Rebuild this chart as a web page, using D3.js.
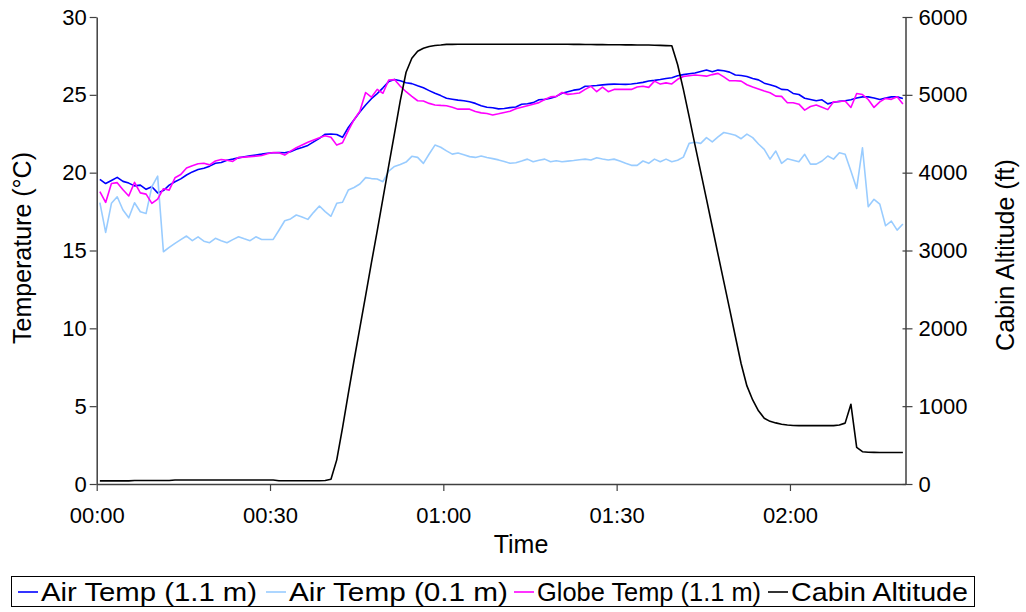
<!DOCTYPE html>
<html>
<head>
<meta charset="utf-8">
<script src="https://cdn.jsdelivr.net/npm/d3@7"></script>
<style>
  html, body { margin: 0; padding: 0; background: #fff; }
  svg { display: block; font-family: "Liberation Sans", Arial, sans-serif; }
</style>
</head>
<body>
<svg id="chart" width="1026" height="612"></svg>
<script>
// ---- Data (one sample per minute, first sample 0.55 min after 00:00) ----
const sampleStartMin = 0.55;
const sampleStepMin = 1;

const airTemp11 = [
  19.57,19.3,19.5,19.7,19.44,19.33,19.15,19.2,18.93,19.1,
  18.7,18.85,19.2,19.42,19.6,19.85,20.05,20.2,20.28,20.42,
  20.6,20.65,20.8,20.87,20.95,21.02,21.08,21.14,21.19,21.25,
  21.28,21.3,21.28,21.35,21.5,21.62,21.75,21.98,22.2,22.47,
  22.48,22.45,22.27,22.9,23.4,23.9,24.35,24.75,25.08,25.45,
  25.85,25.99,25.9,25.78,25.72,25.58,25.45,25.27,25.1,24.95,
  24.78,24.72,24.66,24.62,24.55,24.45,24.3,24.2,24.17,24.1,
  24.12,24.18,24.22,24.4,24.43,24.5,24.68,24.71,24.78,24.9,
  25.1,25.2,25.3,25.35,25.55,25.57,25.6,25.64,25.67,25.69,
  25.68,25.67,25.7,25.74,25.8,25.89,25.93,25.98,26.05,26.1,
  26.22,26.3,26.35,26.4,26.5,26.59,26.48,26.59,26.55,26.46,
  26.27,26.24,26.18,26.05,25.96,25.75,25.65,25.53,25.35,25.33,
  25.09,25.02,24.78,24.7,24.62,24.68,24.42,24.52,24.58,24.62,
  24.68,24.8,24.87,24.87,24.8,24.7,24.8,24.87,24.87,24.77
];

const airTemp01 = [
  18.07,16.16,18.03,18.45,17.6,17.1,18.07,17.49,17.38,19.1,
  19.78,14.92,15.2,15.46,15.7,15.93,15.63,15.88,15.6,15.5,
  15.78,15.63,15.5,15.7,15.88,15.75,15.63,15.88,15.71,15.71,
  15.71,16.3,16.91,17.03,17.28,17.15,17.0,17.45,17.86,17.5,
  17.2,18.03,18.1,18.88,19.05,19.27,19.68,19.62,19.59,19.42,
  20.1,20.4,20.53,20.68,21.05,20.98,20.6,21.2,21.77,21.63,
  21.4,21.19,21.26,21.15,21.03,20.98,21.07,20.98,20.9,20.82,
  20.72,20.6,20.64,20.75,20.87,20.7,20.8,20.87,20.7,20.77,
  20.7,20.74,20.78,20.83,20.87,20.81,20.96,20.88,20.81,20.87,
  20.75,20.6,20.47,20.47,20.75,20.6,20.87,20.7,20.87,20.7,
  20.8,21.0,21.88,21.95,21.88,22.25,21.98,22.3,22.58,22.5,
  22.4,22.18,22.48,22.25,21.84,21.5,20.87,21.39,20.6,20.89,
  20.8,20.7,21.18,20.55,20.55,20.75,21.07,20.87,21.28,21.18,
  20.1,18.99,21.6,17.81,18.29,17.98,16.59,16.89,16.31,16.7
];

const globeTemp11 = [
  18.78,18.09,19.3,19.36,18.9,18.5,19.38,18.7,18.62,18.03,
  18.3,18.97,18.88,19.67,19.88,20.3,20.45,20.57,20.6,20.5,
  20.75,20.85,20.8,20.72,20.98,21.0,21.03,21.06,21.1,21.22,
  21.3,21.28,21.13,21.38,21.6,21.78,21.95,22.1,22.25,22.37,
  22.28,21.77,21.92,22.7,23.4,23.95,25.15,24.85,25.35,25.1,
  25.95,25.98,25.55,25.2,24.9,24.62,24.6,24.45,24.35,24.32,
  24.3,24.2,24.08,24.08,24.08,23.93,23.84,23.8,23.71,23.78,
  23.87,23.95,24.1,24.2,24.3,24.4,24.5,24.7,24.87,24.9,
  25.15,25.03,25.07,25.12,25.35,25.55,25.2,25.5,25.2,25.35,
  25.35,25.35,25.35,25.5,25.55,25.48,25.88,25.69,25.77,25.7,
  26.0,26.18,26.23,26.27,26.24,26.2,26.3,26.38,26.15,25.9,
  25.9,25.88,25.65,25.5,25.38,25.25,25.13,24.92,24.9,24.49,
  24.49,24.4,24.02,24.25,24.35,24.2,24.05,24.55,24.57,24.6,
  24.19,25.09,25.02,24.7,24.19,24.55,24.77,24.71,24.87,24.41
];

const cabinAltitude = [
  40,40,40,40,40,40,45,45,45,45,
  45,45,45,52,52,52,52,52,52,52,
  52,52,52,52,52,52,52,52,52,52,
  52,42,42,42,42,42,42,42,42,45,
  60,310,720,1160,1590,2005,2420,2840,3250,3670,
  4090,4505,4925,5290,5470,5560,5598,5620,5634,5640,
  5648,5648,5649,5649,5650,5650,5650,5650,5650,5650,
  5650,5650,5650,5650,5650,5650,5650,5650,5650,5650,
  5649,5649,5648,5648,5647,5646,5645,5645,5644,5644,
  5643,5642,5642,5641,5641,5640,5638,5635,5632,5630,
  5390,5070,4720,4360,4010,3660,3305,2950,2600,2250,
  1895,1545,1260,1080,940,845,805,785,768,758,
  752,750,750,750,750,750,750,750,758,782,
  1025,470,415,407,406,405,405,405,405,405
];

const xTickMinutes = [0, 30, 60, 90, 120];
const xTickLabels = ["00:00", "00:30", "01:00", "01:30", "02:00"];
const tempTicks = [0, 5, 10, 15, 20, 25, 30];
const altTicks = [0, 1000, 2000, 3000, 4000, 5000, 6000];

const seriesNames = ["Air Temp (1.1 m)", "Air Temp (0.1 m)", "Globe Temp (1.1 m)", "Cabin Altitude"];
const seriesColors = ["#0000ff", "#99ccff", "#ff00ff", "#000000"];

// ---- Layout ----
const svg = d3.select("#chart");
const L = 96.7, R = 905.5, T = 17, B = 484;

const x = d3.scaleLinear().domain([0, 140]).range([L, R]);
const yT = d3.scaleLinear().domain([0, 30]).range([B, T]);
const yA = d3.scaleLinear().domain([0, 6000]).range([B, T]);

const axisColor = "#404040";

// Axes
const gLeft = svg.append("g").attr("transform", `translate(${L},0)`)
  .call(d3.axisLeft(yT).tickValues(tempTicks).tickFormat(d3.format("d"))
    .tickSize(7).tickSizeOuter(0).tickPadding(3));
const gRight = svg.append("g").attr("transform", `translate(${R},0)`)
  .call(d3.axisRight(yA).tickValues(altTicks).tickFormat(d3.format("d"))
    .tickSize(7).tickSizeOuter(0).tickPadding(6));
gRight.selectAll(".tick line").attr("x1", -3);
const gBottom = svg.append("g").attr("transform", `translate(0,${B})`)
  .call(d3.axisBottom(x).tickValues(xTickMinutes).tickFormat((d, i) => xTickLabels[i])
    .tickSize(7).tickSizeOuter(0).tickPadding(16));

[gLeft, gRight, gBottom].forEach(g => {
  g.selectAll("path.domain").attr("stroke", axisColor).attr("stroke-width", 1.5);
  g.selectAll(".tick line").attr("stroke", axisColor).attr("stroke-width", 1.2);
  g.selectAll(".tick text").attr("fill", "#000").style("font-size", "22px")
    .style("font-family", '"Liberation Sans", Arial, sans-serif');
});

// Axis titles
svg.append("text").attr("x", 521).attr("y", 553).attr("text-anchor", "middle")
  .style("font-size", "25px").text("Time");
svg.append("text").attr("transform", "translate(31,248) rotate(-90)").attr("text-anchor", "middle")
  .style("font-size", "25px").text("Temperature (°C)");
svg.append("text").attr("transform", "translate(1014,255) rotate(-90)").attr("text-anchor", "middle")
  .style("font-size", "25px").text("Cabin Altitude (ft)");

// Lines
const tOf = i => sampleStartMin + i * sampleStepMin;
const tempLine = d3.line().x((d, i) => x(tOf(i))).y(d => yT(d));
const altLine = d3.line().x((d, i) => x(tOf(i))).y(d => yA(d));

const temps = [airTemp11, airTemp01, globeTemp11];
temps.forEach((s, k) => {
  svg.append("path").datum(s).attr("d", tempLine)
    .attr("fill", "none").attr("stroke", seriesColors[k]).attr("stroke-width", 1.6)
    .attr("stroke-linejoin", "round");
});
svg.append("path").datum(cabinAltitude).attr("d", altLine)
  .attr("fill", "none").attr("stroke", seriesColors[3]).attr("stroke-width", 1.6)
  .attr("stroke-linejoin", "round");

// Legend
const legend = svg.append("g");
legend.append("rect").attr("x", 11.5).attr("y", 576.5).attr("width", 963).attr("height", 30)
  .attr("fill", "#fff").attr("stroke", "#000").attr("stroke-width", 1);
const itemX = [18, 266, 514, 768];
const itemW = [216, 219, 224, 177];
seriesNames.forEach((name, i) => {
  legend.append("line").attr("x1", itemX[i]).attr("x2", itemX[i] + 20)
    .attr("y1", 592).attr("y2", 592).attr("stroke", seriesColors[i]).attr("stroke-width", 1.6);
  legend.append("text").attr("x", itemX[i] + 23).attr("y", 601)
    .attr("textLength", itemW[i]).attr("lengthAdjust", "spacingAndGlyphs")
    .style("font-size", "26px").text(name);
});
</script>
</body>
</html>
